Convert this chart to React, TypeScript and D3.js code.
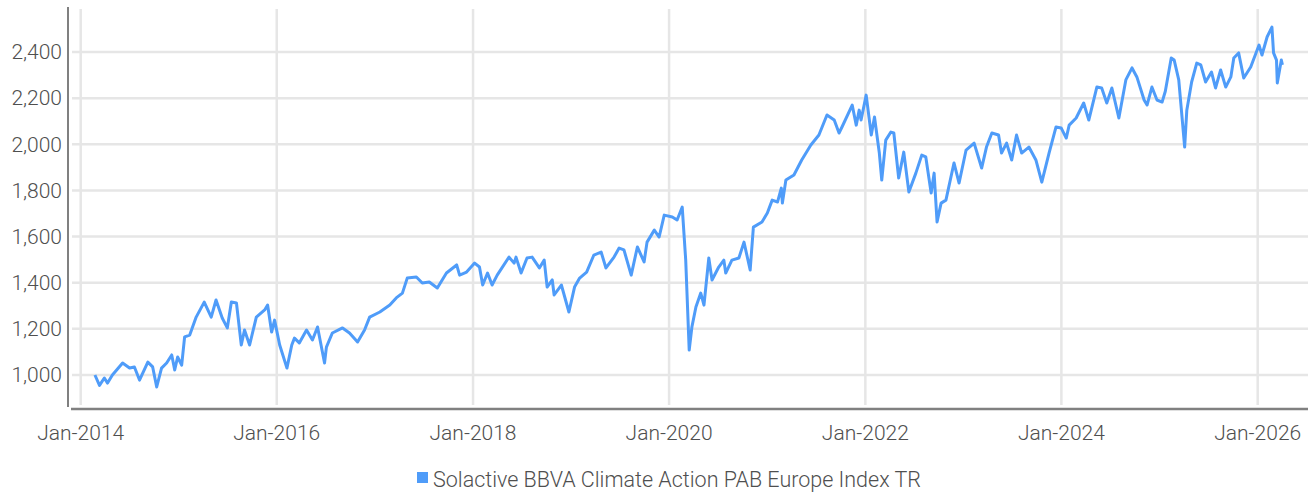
import { useRef, useEffect } from 'react';
import * as d3 from 'd3';

// series name shown in the legend
const seriesName = 'Solactive BBVA Climate Action PAB Europe Index TR';

// (approximate closing levels)
const dates = [
  '2014-02-23', '2014-03-12', '2014-03-30', '2014-04-11', '2014-04-29', '2014-06-06', '2014-07-02', '2014-07-20',
  '2014-08-08', '2014-09-08', '2014-09-26', '2014-10-11', '2014-10-29', '2014-11-17', '2014-12-06', '2014-12-17',
  '2014-12-28', '2015-01-12', '2015-01-23', '2015-02-11', '2015-03-07', '2015-04-06', '2015-05-02', '2015-05-20',
  '2015-06-12', '2015-07-01', '2015-07-16', '2015-08-04', '2015-08-22', '2015-09-03', '2015-09-22', '2015-10-17',
  '2015-11-17', '2015-11-28', '2015-12-13', '2015-12-24', '2016-01-12', '2016-02-08', '2016-02-26', '2016-03-07',
  '2016-03-25', '2016-04-21', '2016-05-13', '2016-06-01', '2016-06-27', '2016-07-04', '2016-07-26', '2016-09-02',
  '2016-09-28', '2016-10-28', '2016-11-23', '2016-12-12', '2017-01-19', '2017-02-25', '2017-03-21', '2017-04-13',
  '2017-05-01', '2017-06-04', '2017-06-26', '2017-07-22', '2017-08-21', '2017-09-24', '2017-11-01', '2017-11-12',
  '2017-12-08', '2018-01-07', '2018-01-25', '2018-02-06', '2018-02-24', '2018-03-13', '2018-04-01', '2018-05-15',
  '2018-06-03', '2018-06-10', '2018-06-29', '2018-07-21', '2018-08-09', '2018-09-05', '2018-09-23', '2018-10-04',
  '2018-10-23', '2018-10-30', '2018-11-26', '2018-12-24', '2019-01-14', '2019-02-02', '2019-02-28', '2019-03-27',
  '2019-04-23', '2019-05-11', '2019-06-10', '2019-06-29', '2019-07-17', '2019-08-13', '2019-09-05', '2019-09-30',
  '2019-10-11', '2019-11-07', '2019-11-25', '2019-12-14', '2020-01-13', '2020-01-31', '2020-02-19', '2020-03-03',
  '2020-03-16', '2020-03-26', '2020-04-10', '2020-04-28', '2020-05-10', '2020-05-28', '2020-06-09', '2020-07-04',
  '2020-07-23', '2020-07-30', '2020-08-22', '2020-09-17', '2020-10-06', '2020-10-29', '2020-11-10', '2020-12-12',
  '2021-01-01', '2021-01-19', '2021-02-08', '2021-02-22', '2021-02-26', '2021-03-11', '2021-04-10', '2021-05-09',
  '2021-06-12', '2021-07-12', '2021-08-11', '2021-09-07', '2021-09-25', '2021-10-06', '2021-11-13', '2021-11-28',
  '2021-12-09', '2021-12-16', '2022-01-04', '2022-01-23', '2022-02-04', '2022-02-22', '2022-03-03', '2022-03-18',
  '2022-04-06', '2022-04-17', '2022-05-05', '2022-05-24', '2022-06-12', '2022-07-08', '2022-07-30', '2022-08-14',
  '2022-09-03', '2022-09-14', '2022-09-25', '2022-10-10', '2022-10-28', '2022-11-27', '2022-12-16', '2023-01-11',
  '2023-02-10', '2023-03-10', '2023-03-28', '2023-04-17', '2023-05-12', '2023-05-23', '2023-06-11', '2023-06-30',
  '2023-07-18', '2023-08-06', '2023-09-02', '2023-09-28', '2023-10-20', '2023-11-16', '2023-12-12', '2023-12-31',
  '2024-01-19', '2024-01-30', '2024-02-25', '2024-03-24', '2024-04-12', '2024-05-12', '2024-05-30', '2024-06-18',
  '2024-07-07', '2024-08-02', '2024-08-28', '2024-09-20', '2024-10-08', '2024-11-04', '2024-11-15', '2024-12-03',
  '2024-12-22', '2025-01-10', '2025-01-22', '2025-02-13', '2025-02-24', '2025-03-13', '2025-04-04', '2025-04-12',
  '2025-04-30', '2025-05-19', '2025-06-03', '2025-06-21', '2025-07-13', '2025-07-28', '2025-08-16', '2025-09-04',
  '2025-09-23', '2025-10-04', '2025-10-22', '2025-11-10', '2025-12-06', '2026-01-06', '2026-01-17', '2026-02-05',
  '2026-02-23', '2026-03-01', '2026-03-12', '2026-03-15', '2026-03-30', '2026-04-03',
];

const values = [
  1000, 955, 987, 965, 1000, 1052, 1030, 1035,
  978, 1056, 1035, 948, 1030, 1052, 1087, 1022,
  1078, 1043, 1165, 1173, 1251, 1316, 1251, 1325,
  1247, 1204, 1316, 1312, 1130, 1195, 1130, 1251,
  1282, 1303, 1186, 1238, 1130, 1030, 1130, 1160,
  1139, 1195, 1152, 1208, 1052, 1121, 1182, 1204,
  1182, 1143, 1195, 1251, 1273, 1303, 1334, 1355,
  1420, 1425, 1399, 1403, 1377, 1442, 1477, 1433,
  1446, 1485, 1468, 1390, 1442, 1390, 1433, 1511,
  1485, 1511, 1442, 1507, 1511, 1464, 1498, 1381,
  1412, 1347, 1390, 1273, 1381, 1420, 1446, 1520,
  1533, 1464, 1511, 1550, 1542, 1433, 1555, 1490,
  1576, 1628, 1598, 1693, 1685, 1672, 1728, 1498,
  1108, 1208, 1295, 1355, 1303, 1507, 1412, 1468,
  1498, 1442, 1498, 1507, 1576, 1455, 1641, 1663,
  1702, 1758, 1750, 1810, 1745, 1845, 1867, 1932,
  1997, 2040, 2127, 2105, 2049, 2075, 2170, 2083,
  2148, 2105, 2213, 2040, 2118, 1962, 1845, 2018,
  2053, 2049, 1854, 1966, 1793, 1875, 1953, 1945,
  1789, 1875, 1663, 1745, 1758, 1919, 1832, 1975,
  2005, 1897, 1988, 2049, 2040, 1962, 2005, 1932,
  2040, 1962, 1988, 1932, 1836, 1962, 2075, 2071,
  2027, 2083, 2114, 2179, 2105, 2248, 2244, 2179,
  2244, 2114, 2279, 2331, 2292, 2192, 2170, 2248,
  2192, 2183, 2230, 2374, 2365, 2279, 1988, 2148,
  2270, 2352, 2344, 2270, 2313, 2244, 2322, 2248,
  2292, 2374, 2396, 2287, 2335, 2430, 2387, 2465,
  2508, 2396, 2365, 2266, 2365, 2344,
];

const yTicks = [1000, 1200, 1400, 1600, 1800, 2000, 2200, 2400];
const xTickYears = [2014, 2016, 2018, 2020, 2022, 2024, 2026];

const lineColor = '#4f9cf9';
const textColor = '#4f4f4f';
const fontFamily = 'Roboto, sans-serif';

export default function App() {
  const svgRef = useRef<SVGSVGElement | null>(null);

  useEffect(() => {
    if (!svgRef.current) return;
    const svg = d3.select(svgRef.current);
    svg.selectAll('*').remove();

    const width = 1308;
    const left = 68;
    const bottom = 408;

    const parse = d3.timeParse('%Y-%m-%d');
    const data = dates.map((d, i) => ({ date: parse(d) as Date, value: values[i] }));

    // Jan-2014 and Jan-2026 gridlines sit at these pixel positions
    const x = d3.scaleTime()
      .domain([new Date(2014, 0, 1), new Date(2026, 0, 1)])
      .range([80.7, 1257.7]);

    const y = d3.scaleLinear()
      .domain([1000, 2400])
      .range([375, 52]);

    // horizontal gridlines
    svg.append('g')
      .selectAll('line')
      .data(yTicks)
      .enter()
      .append('line')
      .attr('x1', left + 4)
      .attr('x2', width)
      .attr('y1', d => y(d))
      .attr('y2', d => y(d))
      .attr('stroke', '#e6e6e6')
      .attr('stroke-width', 2.5);

    // vertical gridlines
    svg.append('g')
      .selectAll('line')
      .data(xTickYears)
      .enter()
      .append('line')
      .attr('x1', d => x(new Date(d, 0, 1)))
      .attr('x2', d => x(new Date(d, 0, 1)))
      .attr('y1', 9)
      .attr('y2', bottom - 3)
      .attr('stroke', '#e6e6e6')
      .attr('stroke-width', 2.5);

    // axis lines
    svg.append('line')
      .attr('x1', left).attr('x2', left)
      .attr('y1', 7).attr('y2', bottom - 1)
      .attr('stroke', '#808080')
      .attr('stroke-width', 2);

    svg.append('line')
      .attr('x1', left + 3).attr('x2', width)
      .attr('y1', bottom + 1).attr('y2', bottom + 1)
      .attr('stroke', '#808080')
      .attr('stroke-width', 2.5);

    // y tick labels
    svg.append('g')
      .selectAll('text')
      .data(yTicks)
      .enter()
      .append('text')
      .attr('x', 62)
      .attr('y', d => y(d))
      .attr('dy', '0.35em')
      .attr('text-anchor', 'end')
      .attr('fill', textColor)
      .style('font-family', fontFamily)
      .style('font-weight', 300)
      .style('font-size', '21px')
      .text(d => d3.format(',')(d));

    // x tick labels
    svg.append('g')
      .selectAll('text')
      .data(xTickYears)
      .enter()
      .append('text')
      .attr('x', d => x(new Date(d, 0, 1)))
      .attr('y', 433)
      .attr('dy', '0.35em')
      .attr('text-anchor', 'middle')
      .attr('fill', textColor)
      .style('font-family', fontFamily)
      .style('font-weight', 300)
      .style('font-size', '21px')
      .text(d => d3.timeFormat('%b-%Y')(new Date(d, 0, 1)));

    // the index line
    const line = d3.line<{ date: Date; value: number }>()
      .x(d => x(d.date))
      .y(d => y(d.value));

    svg.append('path')
      .datum(data)
      .attr('d', line)
      .attr('fill', 'none')
      .attr('stroke', lineColor)
      .attr('stroke-width', 3)
      .attr('stroke-linejoin', 'round');

    // legend
    const legend = svg.append('g');
    legend.append('rect')
      .attr('x', 417)
      .attr('y', 472)
      .attr('width', 11)
      .attr('height', 11)
      .attr('fill', lineColor);
    legend.append('text')
      .attr('x', 433)
      .attr('y', 479)
      .attr('dy', '0.35em')
      .attr('fill', textColor)
      .style('font-family', fontFamily)
      .style('font-weight', 300)
      .style('font-size', '21.5px')
      .text(seriesName);
  }, []);

  return (
    <svg
      ref={svgRef}
      width={1308}
      height={493}
      style={{ position: 'absolute', left: 0, top: 0, background: '#ffffff' }}
    />
  );
}
